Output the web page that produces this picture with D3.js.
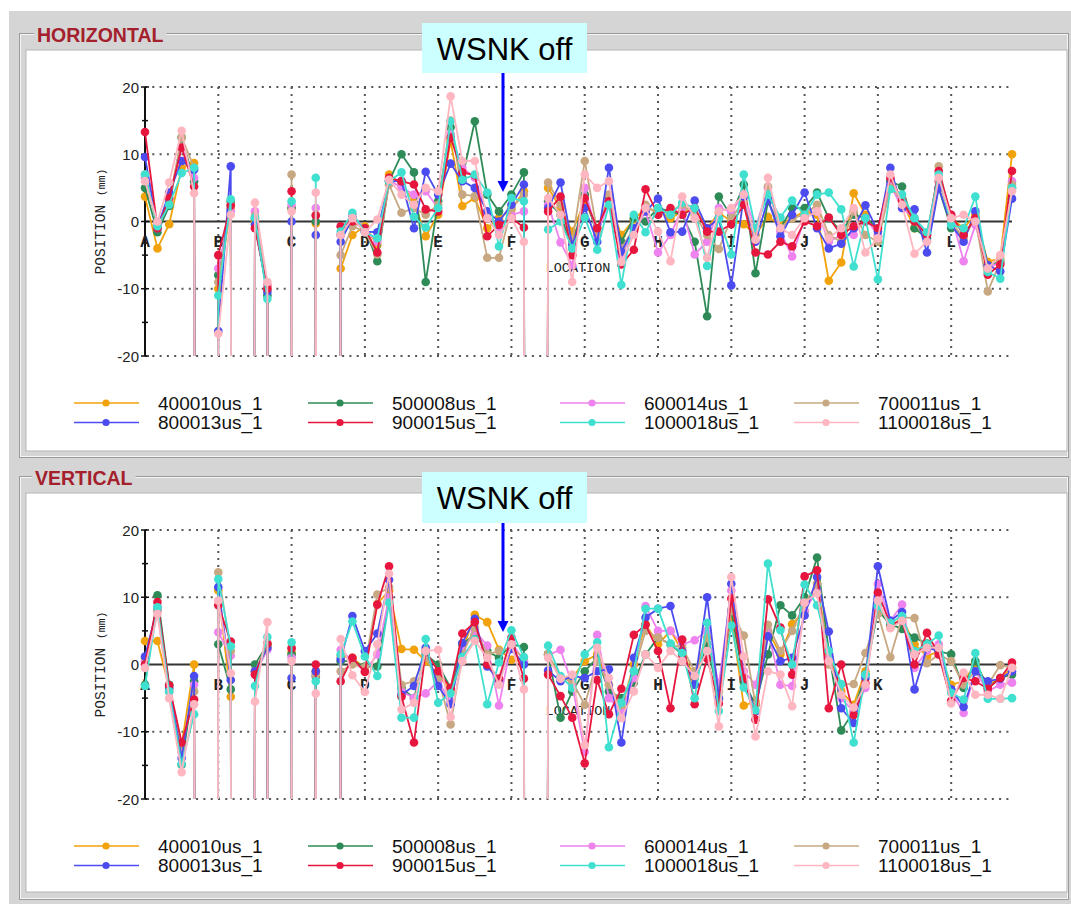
<!DOCTYPE html>
<html><head><meta charset="utf-8">
<script src="https://cdn.jsdelivr.net/npm/d3@7"></script>
<style>body{margin:0;background:#fff}</style>
</head><body>
<svg id="chart" width="1071" height="904"></svg>
<script>
// ---------- DATA ----------
const X = -999; // off-scale (invalid) monitor reading
const locationLabels = ["A","B","C","D","E","F","G","H","I","J","K","L"];
const locationTicks = [0,1,2,3,4,5,6,7,8,9,10,11];
const yTicks = [-20,-10,0,10,20];
const yMinorTicks = [-15,-5,5,15];
const seriesNames = ["400010us_1","500008us_1","600014us_1","700011us_1","800013us_1","900015us_1","1000018us_1","1100018us_1"];
const seriesColors = ["#f2a20a","#2e8b57","#ee82ee","#c8a882","#4b4bef","#e6163f","#40e0d0","#ffb6c1"];
const bpmPositions = [
 0,0.17,0.33,0.5,0.67,0.83,1,1.17,1.33,1.5,1.67,1.83,
 2,2.17,2.33,2.5,2.67,2.83,3,3.17,3.33,3.5,3.67,3.83,
 4,4.17,4.33,4.5,4.67,4.83,5,5.17,5.33,5.5,5.67,5.83,
 6,6.17,6.33,6.5,6.67,6.83,7,7.17,7.33,7.5,7.67,7.83,
 8,8.17,8.33,8.5,8.67,8.83,9,9.17,9.33,9.5,9.67,9.83,
 10,10.17,10.33,10.5,10.67,10.83,11,11.17,11.33,11.5,11.67,11.83];

// HORIZONTAL (mm)
const h400010 = [
 3.7,-4,-0.4,8,8.7,X,-10,2,X,0,-9.5,X,
 2,X,-0.3,X,-7,-2,-0.7,-3.5,7,5.5,3,-2.2,
 1,12,2.3,3.5,-1,0.5,1.8,4.5,X,5,2,-1.5,
 3,-1,3,-2,0.3,2,1.5,0.5,1.5,2,-1,1.3,
 0,-0.4,-2,0.7,-0.5,0.5,1.5,1,-8.8,-6.1,4.2,1,
 -2,5,3,-1,-2,6,0.5,-1,1,-6,-5.5,10];
const h500008 = [
 5,-1.6,2.3,12.5,6,X,-8,3,X,0.5,-11,X,
 2,X,0,X,-2,0.5,-1,-5.9,6,10,7.3,-9,
 3,14,6.5,14.9,4,1.5,4,7.3,X,3,1,-4,
 4,-2,3.5,-3,0.5,0,2,1.5,1,-3,-14.1,3.7,
 0.8,5.5,-7.7,3,-1,2,2,4.3,0.5,-1.5,1,0.5,
 -1,6,5.2,-1,-2.5,5,-1,-2,0.5,-6.5,-6,5];
const h600014 = [
 6.5,-0.5,3.5,11,6.5,X,-7,1.5,X,1.5,-9.5,X,
 2.5,X,2,X,-2,1,-1.2,-3,6.2,5,4,4.5,
 2,13,8,6.5,1,-1,1,1.5,X,2.5,-3.1,-6.5,
 5,-2,3,-5,-1.5,1.5,-4.6,-2,2,-4.9,-3,2,
 1.5,4,-1,5,-1.5,-5.2,0.5,1.5,-3,-2,-2,0.5,
 -2,5.5,2,0.5,-2,6,1,-5.9,-0.5,-7,-6,6];
const h700011 = [
 7,-1,3,12.5,8,X,-9,2.5,X,0.8,-10,X,
 7,X,1,X,-5,-0.7,-1.5,-4.9,5.5,1.3,2,1,
 2.5,15,4,3.8,-5.4,-5.4,2,4,X,5.8,2.5,-3,
 9,-1.5,4,-4,-1,2.5,1,1.5,2.5,1,-2,-4.1,
 0.5,3,-2,5.2,-1,0.5,1,2.5,-2,-3,1.5,-2,
 -3,5,3.5,0,-3,8.2,0,-2.5,0.5,-10.4,-6,5.5];
const h800013 = [
 9.6,-1,4.3,9,7.7,X,-16.3,8.2,X,-0.5,-10.5,X,
 0,X,-2,X,-3,0.5,-1.5,-1.6,6,6,-1,7.4,
 4,8.6,6,5,1.5,0,2.5,5.5,X,2,5.8,-3.5,
 2,-3,8,-4.5,-1,1.5,3.4,-1.6,-1.5,3.1,-1,0.5,
 -9.5,3.7,-3,3.3,-2.2,1,4.3,-1,-4,-3.3,-1,2.4,
 -1.5,8,2,1.8,-4.6,5,-0.5,-3,1.5,-6.5,-7.4,3.4];
const h900015 = [
 13.3,-1,3.5,11,5.2,X,-5,2.4,X,-1,-10,X,
 4.5,X,0.9,X,-0.7,0,-1,-4.6,6.5,6,5.5,1.8,
 1.5,12.5,7.3,6.9,-2.2,-0.5,0.5,-0.9,X,1.5,3.7,-5,
 3.5,-1,3,-6.4,-4.2,4.8,1,2,1,2,-1.5,-1.5,
 -0.4,2.5,-4.6,-4.9,-3,-3.7,0,-0.7,0.6,-2,-0.7,0,
 -1,6.5,3.1,0,-2,7.5,1,-2,0.5,-7.9,-6.4,7.5];
const h1000018 = [
 7,-0.7,2.5,7.2,8,X,-11,3.3,X,0.6,-11.5,X,
 3,X,6.5,X,-1.5,1.3,-1.6,-2.5,6,7.3,0.7,-0.9,
 2,14.9,6.2,7,4.3,-3.7,3.5,3,X,-1.2,0,-4,
 0.6,-4.2,2.5,-9.4,1,-1.6,2,1,2.8,2,-6.6,0.5,
 -4.9,7,-1,4,0.6,3.1,1,4,4.3,1.8,-6.7,0.5,
 -8.6,4.8,4,0.5,-1.6,7,-0.5,-1,3.7,-7.5,-8.5,5];
const h1100018 = [
 6,0,5.8,13.5,4.2,X,-16.7,1,X,2.8,-9,X,
 1.5,X,4.3,X,-2,0.5,-1.6,0.3,6.2,4,2.5,5,
 4.5,18.6,9,9,0.5,-2,0.5,-3,X,3.5,1,-9,
 7,5,6,-6,-2,2,-1.5,-5.9,3.7,0.5,-5.4,1.5,
 2,4,-2.7,6.5,-1,-2,0.5,1.5,-2.5,-1,2,-4.6,
 -2.5,7,2.5,-4.8,-3,6.5,0.5,1,0,-7,-5,4.5];

// VERTICAL (mm)
const v400010 = [
 3.5,3.5,-3.5,-12,0,X,11,-4.8,X,-1,2.5,X,
 1.8,X,-1,X,1.3,1,-0.5,9,11,2.3,2.2,0.5,
 -1.5,-4,2,7.4,6.3,2.2,0.7,0.5,X,1.5,-2,-2,
 0.5,1.5,-3,-6.5,0,6,3,5,2,-2,5,-4,
 7,-6.1,-5.5,5,1.5,6,8,12,1.5,-4,-6,-1,
 9,5.5,7,3,1.2,2,-3,-2.5,0,-3,-2,-0.5];
const v500008 = [
 -3,10.3,-3,-14.9,-2.5,X,3,-3.7,X,0,3,X,
 1.5,X,-1.8,X,0.5,0.5,-0.3,-0.3,10,-3.5,-5,1.5,
 0,-3.5,3,4.5,2,1,3,2.6,X,1.5,-7.9,-4,
 -1,1,-4,-5,-2.7,1.5,4,3,1.5,-3,3,-5,
 8,-2.5,-6,1.5,8.8,7.3,10,15.9,2,-9.8,-7,-1.5,
 8,6,5.3,4,3.1,2,1.5,-3.5,0.5,-3.5,-2,-1.5];
const v600014 = [
 0.5,8,-4,-13,-3,X,4.8,1.3,X,-1.5,2.2,X,
 1,X,-1.5,X,2.2,0.5,-1,1.5,10,-4,-5,-4.3,
 -2.5,-5.5,2,5,2.8,-6.1,3.3,0.5,X,1.4,2.2,-3,
 -13,4.4,-5,-7,-2,8.7,5,5,3,3.6,5,-3,
 11,-1,-3,5,-3,-3.2,8,11,1,-5,-7,-3.5,
 12,6.5,8.9,-0.5,2,3,-4,-7.2,-1,-4,-3,-2.7];
const v700011 = [
 1,8,-4,-12.5,-4,X,13.7,2,X,-1,3,X,
 2.5,X,-1.5,X,-1,0,-0.4,10.4,11.5,-3,-2.5,1,
 -2,-8.9,1.5,5.5,1.5,2,2.5,1,X,1.5,-2,-2.5,
 -6,0.5,-3,-6,-1,5,4,3,2.5,-1,4,-4,
 8,4.3,-6,5.9,2,5,9,12,0,-3,-2.9,1.7,
 7.5,1.1,7,6.9,0.2,1.5,0.5,-3,-1,-3,-0.1,-0.5];
const v800013 = [
 1.2,8.5,-3.5,-13.9,-1.7,X,11.5,-2.3,X,-1,2.5,X,
 -2,X,-1,X,0.8,7.2,2,4.6,12.6,-4.5,-3.2,2.5,
 -3.2,-5.9,3.2,6.8,-0.3,-2.3,2.3,0,X,-0.9,-2.5,-1.7,
 -2,-1,-0.7,-11.6,1,7,8.3,8.7,2,-3,10,-5,
 12,-2,-7,4.2,0.5,1,7.3,13,4.9,-6.5,-8.7,-2,
 14.6,6.5,7.8,-3.7,2.5,2,-3.7,-6.3,-1,-2.5,-2.1,-1];
const v900015 = [
 0,9.3,-3.1,-11.6,-5.2,X,8.8,3.4,X,-1.5,3.1,X,
 2.4,X,0,X,-2.5,1,-1.1,8.9,14.6,-4.8,-11.6,2,
 -1,-3.5,4.6,6.3,0,-2.1,4,-2.1,X,-1.5,-4.7,-7.9,
 -14.7,-2.3,-7.4,-3.6,4.4,5.9,2,-6.5,3.7,-5.9,0.9,-5.8,
 9.8,-2,-8.2,9.7,5.5,-1.5,13.1,14,-6.5,0,-7.5,-2.8,
 10.7,6,6.5,0,4.7,1.5,-5.4,-2,-2.5,-3.6,-2,0.3];
const v1000018 = [
 -3.2,8.5,-4,-14.8,-7.4,X,12.7,2.7,X,-3.2,4.1,X,
 3.3,X,-2.5,X,1.5,6.4,1.2,-1.7,9.2,-7.9,-7.9,3.8,
 -5.7,-4.3,1.1,3.7,-5.9,0.3,5.1,1.1,X,2.8,-1.7,-3.5,
 1.5,3.3,-12.3,-5.7,-1,8.3,8.3,3.1,1.7,-5,6.2,-6.9,
 5.8,-3.4,-6.8,15,5.1,0,11.9,8.8,2,-2.9,-11.6,-1.5,
 8.7,6.2,7.2,2,3,4.3,-4.2,-5.2,1.7,-5.1,-5.1,-5];
const v1100018 = [
 -0.5,7.5,-5,-16,-5.9,X,9.5,-1.3,X,-5.5,6.3,X,
 0.5,X,-4.3,X,3.8,-1.6,-4.1,3,13.5,-6.7,-5.7,2,
 2.2,-7.8,0.5,3.5,1,-3,3,-3.7,X,1,-2.1,-1.5,
 -12,2.5,-2,-8,-4,1.5,-0.5,2,0.5,-1.7,2,-9.2,
 13,1.2,-10.7,-1,-1.5,-6.2,9.2,10.6,0.5,-4.5,-6.4,-3,
 9.5,5.4,6.5,1.5,2.5,2.5,-5.8,-1.2,-4.5,-4.5,-5.1,-0.5];

const horizontalSeries = [h400010,h500008,h600014,h700011,h800013,h900015,h1000018,h1100018];
const verticalSeries = [v400010,v500008,v600014,v700011,v800013,v900015,v1000018,v1100018];

// ---------- DRAWING ----------
const svg = d3.select("#chart");
svg.append("rect").attr("x",9).attr("y",11).attr("width",1062).attr("height",893).attr("fill","#d5d5d5");
const defs = svg.append("defs");

const x = d3.scaleLinear().domain([0, 11.83]).range([145, 1012]);

const panels = [
  {id:"h", title:"HORIZONTAL", titleX:37, frameY:33, frameH:424, whiteY:50, whiteH:401,
   yRange:[356,87], legendY:403, series:horizontalSeries,
   box:{x:422,y:23,w:165,h:50}, arrow:{x:503,y1:73,y2:192}},
  {id:"v", title:"VERTICAL", titleX:35, frameY:476, frameH:423, whiteY:493, whiteH:399,
   yRange:[799,530], legendY:846, series:verticalSeries,
   box:{x:422,y:472,w:165,h:51}, arrow:{x:503,y1:523,y2:632}}
];

panels.forEach(p => {
  const g = svg.append("g");
  g.append("rect").attr("x",19.5).attr("y",p.frameY+0.5).attr("width",1049).attr("height",p.frameH)
    .attr("fill","none").attr("stroke","#9a9a9a");
  g.append("rect").attr("x",20.5).attr("y",p.frameY+1.5).attr("width",1047).attr("height",p.frameH-2)
    .attr("fill","none").attr("stroke","#f4f4f4");
  g.append("rect").attr("x",26).attr("y",p.whiteY).attr("width",1041).attr("height",p.whiteH)
    .attr("fill","#fff").attr("stroke","#b5b5b5");
  const t = g.append("text").attr("x",p.titleX).attr("y",p.frameY+9)
    .attr("font-family","Liberation Sans, Arial, sans-serif").attr("font-weight","bold")
    .attr("font-size",19.5).attr("fill","#a3202c").text(p.title);
  const bb = t.node().getBBox();
  g.insert("rect", "text").attr("x",bb.x-3).attr("y",p.frameY-3).attr("width",bb.width+6).attr("height",8)
    .attr("fill","#d5d5d5");

  const y = d3.scaleLinear().domain([-20,20]).range(p.yRange);

  yTicks.filter(v => v !== 0).forEach(v => {
    g.append("line").attr("x1",x(0)).attr("x2",1012).attr("y1",y(v)).attr("y2",y(v))
      .attr("stroke","#555").attr("stroke-width",2).attr("stroke-dasharray","2,5.3");
  });
  locationTicks.slice(1).forEach(v => {
    g.append("line").attr("x1",x(v)).attr("x2",x(v)).attr("y1",y(20)).attr("y2",y(-20))
      .attr("stroke","#555").attr("stroke-width",2).attr("stroke-dasharray","2,5");
  });
  g.append("line").attr("x1",x(0)).attr("x2",1012).attr("y1",y(0)).attr("y2",y(0))
    .attr("stroke","#333").attr("stroke-width",2);
  g.append("line").attr("x1",x(0)).attr("x2",x(0)).attr("y1",y(20)).attr("y2",y(-20))
    .attr("stroke","#111").attr("stroke-width",2);
  yTicks.forEach(v => {
    g.append("line").attr("x1",x(0)-4).attr("x2",x(0)+4).attr("y1",y(v)).attr("y2",y(v))
      .attr("stroke","#111").attr("stroke-width",1.5);
    g.append("text").attr("x",x(0)-6).attr("y",y(v)+5.5).attr("text-anchor","end")
      .attr("font-family","Liberation Sans, Arial, sans-serif").attr("font-size",15)
      .attr("fill","#222").text(v);
  });
  yMinorTicks.forEach(v => {
    g.append("line").attr("x1",x(0)-3).attr("x2",x(0)+3).attr("y1",y(v)).attr("y2",y(v))
      .attr("stroke","#111").attr("stroke-width",1.5);
  });
  locationLabels.forEach((lab,i) => {
    g.append("text").attr("x",x(locationTicks[i])).attr("y",y(0)+25).attr("text-anchor","middle")
      .attr("font-family","Liberation Mono, Courier New, monospace").attr("font-size",16)
      .attr("font-weight","bold").attr("fill","#222").text(lab);
  });
  g.append("text").attr("x",578).attr("y",y(0)+50).attr("text-anchor","middle")
    .attr("font-family","Liberation Mono, Courier New, monospace").attr("font-size",13.5)
    .attr("fill","#222").text("LOCATION");
  const yl = g.append("text").attr("transform",`translate(105,${y(0)}) rotate(-90)`).attr("text-anchor","middle")
    .attr("font-family","Liberation Mono, Courier New, monospace").attr("font-size",14.5).attr("fill","#222");
  yl.append("tspan").text("POSITION ");
  yl.append("tspan").attr("font-size",11.5).text("(mm)");

  defs.append("clipPath").attr("id","clip-"+p.id).append("rect")
    .attr("x",x(0)-6).attr("y",y(20)-6).attr("width",1012-x(0)+12).attr("height",y(-20)-y(20)+6);
  const plot = g.append("g").attr("clip-path",`url(#clip-${p.id})`);
  const line = d3.line().x((d,i) => x(bpmPositions[i])).y(d => y(d));
  p.series.forEach((vals,si) => {
    const sg = plot.append("g");
    sg.append("path").datum(vals).attr("d",line).attr("fill","none")
      .attr("stroke",seriesColors[si]).attr("stroke-width",1.8);
    sg.selectAll("circle").data(vals.map((v,i)=>({v,i})).filter(d => d.v >= -20 && d.v <= 20))
      .join("circle").attr("cx",d => x(bpmPositions[d.i])).attr("cy",d => y(d.v)).attr("r",4.3)
      .attr("fill",seriesColors[si]);
  });

  const colX = [158,392,644,878];
  seriesNames.forEach((name,si) => {
    const cx = colX[si % 4], cy = p.legendY + Math.floor(si/4)*19.5;
    g.append("line").attr("x1",cx-84).attr("x2",cx-19).attr("y1",cy).attr("y2",cy)
      .attr("stroke",seriesColors[si]).attr("stroke-width",1.6);
    g.append("circle").attr("cx",cx-52).attr("cy",cy).attr("r",3.6).attr("fill",seriesColors[si]);
    g.append("text").attr("x",cx).attr("y",cy+6.8)
      .attr("font-family","Liberation Sans, Arial, sans-serif").attr("font-size",19)
      .attr("fill","#111").text(name);
  });

  const a = svg.append("g");
  a.append("rect").attr("x",p.box.x).attr("y",p.box.y).attr("width",p.box.w).attr("height",p.box.h)
    .attr("fill","#ccffff");
  a.append("text").attr("x",p.box.x+p.box.w/2).attr("y",p.box.y+37).attr("text-anchor","middle")
    .attr("font-family","Liberation Sans, Arial, sans-serif").attr("font-size",31).attr("fill","#000")
    .text("WSNK off");
  a.append("line").attr("x1",p.arrow.x).attr("x2",p.arrow.x).attr("y1",p.arrow.y1).attr("y2",p.arrow.y2-9)
    .attr("stroke","#0000ff").attr("stroke-width",3);
  a.append("path").attr("d",`M${p.arrow.x-5.5},${p.arrow.y2-11} L${p.arrow.x+5.5},${p.arrow.y2-11} L${p.arrow.x},${p.arrow.y2} Z`)
    .attr("fill","#0000ff");
});
</script>
</body></html>
